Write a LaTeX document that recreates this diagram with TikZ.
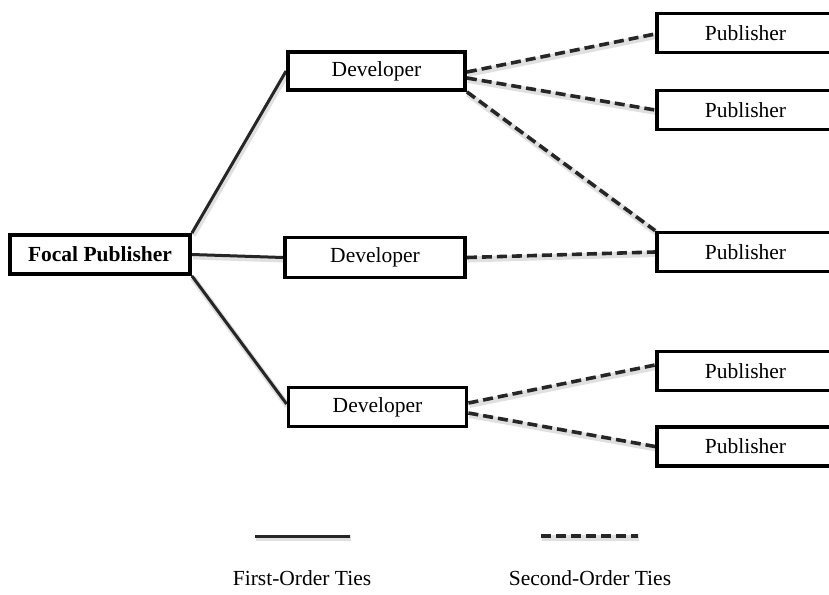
\documentclass[tikz,border=0pt]{standalone}
\usepackage{fontspec}
\setmainfont{Liberation Serif}
\usetikzlibrary{backgrounds}
\begin{document}
\begin{tikzpicture}[x=1pt,y=-1pt,
  box/.style={draw=black, line width=3.8pt, fill=white, inner sep=0pt,
    font=\fontsize{21.5}{25}\selectfont},
  devbox/.style={box, minimum width=177pt, minimum height=38pt},
  pubbox/.style={box, minimum width=178pt, minimum height=39pt},
  focalbox/.style={box, minimum width=180pt, minimum height=39pt, font=\fontsize{21.5}{25}\selectfont\bfseries},
  shade/.style={preaction={draw=black, draw opacity=0.12, line width=6pt,
    transform canvas={shift={(1pt,-2pt)}}}},
  firsttie/.style={draw=black!85, line width=3pt, shade},
  secondtie/.style={draw=black!85, line width=3.6pt, dash pattern=on 10pt off 5pt, shade},
  lbl/.style={font=\fontsize{21.5}{25}\selectfont, inner sep=0pt}
]
\useasboundingbox (0,0) rectangle (829,594);

\node[focalbox] (focal) at (100,254.5) {Focal Publisher};
\node[devbox] (dev1) at (376.5,71) {Developer};
\node[devbox, minimum width=180pt, minimum height=40pt] (dev2) at (375,257.5) {Developer};
\node[devbox, minimum width=178pt, minimum height=39pt] (dev3) at (377.5,407) {Developer};
\node[pubbox] (pub1) at (746,33) {\hspace*{-1pt}Publisher};
\node[pubbox] (pub2) at (746,110) {\hspace*{-1pt}Publisher};
\node[pubbox] (pub3) at (746,252) {\hspace*{-1pt}Publisher};
\node[pubbox] (pub4) at (746,371) {\hspace*{-1pt}Publisher};
\node[pubbox] (pub5) at (746,446.5) {\hspace*{-1pt}Publisher};

\begin{scope}[on background layer]
% first-order ties
\draw[firsttie] (focal.north east) -- (dev1.west);
\draw[firsttie] (focal.east) -- (dev2.west);
\draw[firsttie] (focal.south east) -- ([yshift=3pt]dev3.west);
% second-order ties
\draw[secondtie] ([yshift=-1pt]dev1.east) -- ([yshift=-1pt]pub1.west);
\draw[secondtie] ([yshift=-7pt]dev1.east) -- (pub2.west);
\draw[secondtie] (dev1.south east) -- (pub3.north west);
\draw[secondtie] (dev2.east) -- (pub3.west);
\draw[secondtie] ([yshift=4pt]dev3.east) -- ([yshift=6pt]pub4.west);
\draw[secondtie] ([yshift=-6pt]dev3.east) -- (pub5.west);
\end{scope}

% legend
\coordinate (l1a) at (255,536);
\coordinate (l1b) at (350,536);
\coordinate (l2a) at (541,536);
\coordinate (l2b) at (638,536);
\draw[firsttie] (l1a) -- (l1b);
\draw[secondtie] (l2a) -- (l2b);
\node[lbl] (lab1) at (302,578) {First-Order Ties};
\node[lbl] (lab2) at (590,578) {Second-Order Ties};
\end{tikzpicture}
\end{document}
